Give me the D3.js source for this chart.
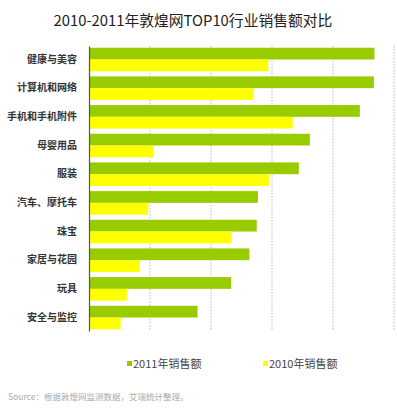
<!DOCTYPE html>
<html>
<head>
<meta charset="utf-8">
<script src="https://cdn.jsdelivr.net/npm/d3@7"></script>
<style>
  body { margin: 0; background: #fff; }
</style>
</head>
<body>
<div id="chart"></div>
<script>
const categories = ["健康与美容", "计算机和网络", "手机和手机附件", "母婴用品", "服装",
    "汽车、摩托车", "珠宝", "家居与花园", "玩具", "安全与监控"];
const sales2011 = [4.68, 4.67, 4.44, 3.62, 3.44, 2.77, 2.75, 2.63, 2.33, 1.78];
const sales2010 = [2.94, 2.69, 3.34, 1.05, 2.95, 0.97, 2.33, 0.83, 0.62, 0.52];
const seriesNames = ["2011年销售额", "2010年销售额"];
const gridTicks = [1, 2, 3, 4, 5];

const green = "#99CC00";
const yellow = "#FFFF00";

const width = 397, height = 419;
const margin = {top: 46, left: 89, right: 4, bottom: 88};

const svg = d3.select("#chart").append("svg")
    .attr("width", width)
    .attr("height", height)
    .style("font-family", "'Noto Sans CJK SC', sans-serif");

const x = d3.scaleLinear()
    .domain([0, 5])
    .range([margin.left, margin.left + 305]);

const y = d3.scaleBand()
    .domain(categories)
    .range([margin.top, height - margin.bottom])
    .paddingInner(0.18)
    .paddingOuter(0.06);

const sub = d3.scaleBand()
    .domain(seriesNames)
    .range([0, y.bandwidth()]);

// title
svg.append("text")
    .attr("x", 193)
    .attr("y", 26)
    .attr("text-anchor", "middle")
    .attr("font-size", 14.8)
    .attr("fill", "#222")
    .text("2010-2011年敦煌网TOP10行业销售额对比");

// dotted gridlines
svg.append("g")
    .selectAll("line")
    .data(gridTicks)
    .enter()
    .append("line")
    .attr("x1", d => x(d)).attr("x2", d => x(d))
    .attr("y1", margin.top).attr("y2", height - margin.bottom)
    .attr("stroke", "#bbb")
    .attr("stroke-width", 1)
    .attr("stroke-dasharray", "1.5,1.5");

// bars
const groups = svg.append("g")
    .selectAll("g")
    .data(categories)
    .enter()
    .append("g")
    .attr("transform", d => "translate(0," + y(d) + ")");

groups.append("rect")
    .attr("x", x(0))
    .attr("y", sub(seriesNames[0]))
    .attr("height", sub.bandwidth())
    .attr("width", (d, i) => x(sales2011[i]) - x(0))
    .attr("fill", green);

groups.append("rect")
    .attr("x", x(0))
    .attr("y", sub(seriesNames[1]))
    .attr("height", sub.bandwidth())
    .attr("width", (d, i) => x(sales2010[i]) - x(0))
    .attr("fill", yellow);

// category labels
const yAxis = svg.append("g")
    .attr("transform", "translate(" + margin.left + ",0)")
    .call(d3.axisLeft(y).tickSize(0).tickPadding(12));
yAxis.select(".domain").attr("stroke", "#555").attr("stroke-width", 1.2);
yAxis.selectAll("text")
    .attr("font-size", 10)
    .attr("font-weight", "bold")
    .attr("fill", "#333")
    .style("font-family", "'Noto Sans CJK SC', sans-serif");

// legend
const legendData = [{name: seriesNames[0], color: green, x: 127}, {name: seriesNames[1], color: yellow, x: 263}];
const legend = svg.append("g")
    .selectAll("g")
    .data(legendData)
    .enter()
    .append("g")
    .attr("transform", d => "translate(" + d.x + ",361)");

legend.append("rect")
    .attr("width", 5)
    .attr("height", 5)
    .attr("fill", d => d.color);

legend.append("text")
    .attr("x", 6)
    .attr("y", 7)
    .attr("font-size", 11)
    .attr("fill", "#444")
    .text(d => d.name);

// source note
svg.append("text")
    .attr("x", 8)
    .attr("y", 400)
    .attr("font-size", 8.5)
    .attr("fill", "#aaa")
    .text("Source：根据敦煌网监测数据，艾瑞统计整理。");
</script>
</body>
</html>
